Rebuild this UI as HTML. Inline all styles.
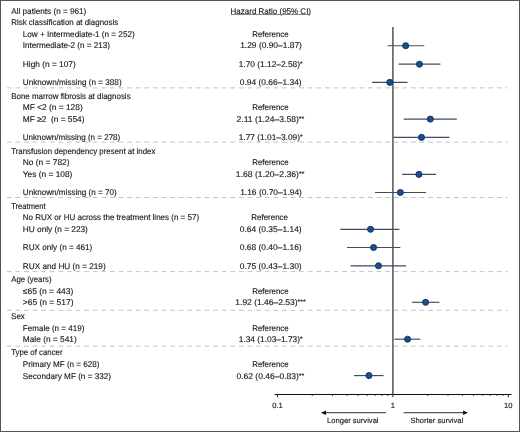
<!DOCTYPE html><html><head><meta charset="utf-8"><style>html,body{margin:0;padding:0;background:#fff}svg{display:block;will-change:transform}text{font-family:"Liberation Sans",sans-serif;text-rendering:geometricPrecision;stroke:#1a1a1a;stroke-width:0.14px}</style></head><body>
<svg width="520" height="432" viewBox="0 0 520 432">
<rect x="0" y="0" width="520" height="432" fill="#fff"/>
<line x1="6.8" y1="87.9" x2="507.6" y2="87.9" stroke="#bcbcbc" stroke-width="0.9" stroke-dasharray="4.7 3.9"/>
<line x1="6.8" y1="142.1" x2="507.6" y2="142.1" stroke="#bcbcbc" stroke-width="0.9" stroke-dasharray="4.7 3.9"/>
<line x1="6.8" y1="197.5" x2="507.6" y2="197.5" stroke="#bcbcbc" stroke-width="0.9" stroke-dasharray="4.7 3.9"/>
<line x1="6.8" y1="271.6" x2="507.6" y2="271.6" stroke="#bcbcbc" stroke-width="0.9" stroke-dasharray="4.7 3.9"/>
<line x1="6.8" y1="310.3" x2="507.6" y2="310.3" stroke="#bcbcbc" stroke-width="0.9" stroke-dasharray="4.7 3.9"/>
<line x1="6.8" y1="346.2" x2="507.6" y2="346.2" stroke="#bcbcbc" stroke-width="0.9" stroke-dasharray="4.7 3.9"/>
<line x1="392.9" y1="27.1" x2="392.9" y2="394.2" stroke="#4f4f4f" stroke-width="1.45"/>
<line x1="274.6" y1="394.45" x2="511.5" y2="394.45" stroke="#111" stroke-width="1.1"/>
<line x1="277.50" y1="394" x2="277.50" y2="397.2" stroke="#1e1e1e" stroke-width="1"/>
<line x1="392.90" y1="394" x2="392.90" y2="397.2" stroke="#1e1e1e" stroke-width="1"/>
<line x1="508.30" y1="394" x2="508.30" y2="397.2" stroke="#1e1e1e" stroke-width="1"/>
<line x1="312.24" y1="394" x2="312.24" y2="395.8" stroke="#1e1e1e" stroke-width="1"/>
<line x1="332.56" y1="394" x2="332.56" y2="395.8" stroke="#1e1e1e" stroke-width="1"/>
<line x1="346.98" y1="394" x2="346.98" y2="395.8" stroke="#1e1e1e" stroke-width="1"/>
<line x1="358.16" y1="394" x2="358.16" y2="395.8" stroke="#1e1e1e" stroke-width="1"/>
<line x1="367.30" y1="394" x2="367.30" y2="395.8" stroke="#1e1e1e" stroke-width="1"/>
<line x1="375.02" y1="394" x2="375.02" y2="395.8" stroke="#1e1e1e" stroke-width="1"/>
<line x1="381.72" y1="394" x2="381.72" y2="395.8" stroke="#1e1e1e" stroke-width="1"/>
<line x1="387.62" y1="394" x2="387.62" y2="395.8" stroke="#1e1e1e" stroke-width="1"/>
<line x1="427.64" y1="394" x2="427.64" y2="395.8" stroke="#1e1e1e" stroke-width="1"/>
<line x1="447.96" y1="394" x2="447.96" y2="395.8" stroke="#1e1e1e" stroke-width="1"/>
<line x1="462.38" y1="394" x2="462.38" y2="395.8" stroke="#1e1e1e" stroke-width="1"/>
<line x1="473.56" y1="394" x2="473.56" y2="395.8" stroke="#1e1e1e" stroke-width="1"/>
<line x1="482.70" y1="394" x2="482.70" y2="395.8" stroke="#1e1e1e" stroke-width="1"/>
<line x1="490.42" y1="394" x2="490.42" y2="395.8" stroke="#1e1e1e" stroke-width="1"/>
<line x1="497.12" y1="394" x2="497.12" y2="395.8" stroke="#1e1e1e" stroke-width="1"/>
<line x1="503.02" y1="394" x2="503.02" y2="395.8" stroke="#1e1e1e" stroke-width="1"/>
<g font-size="7.6" fill="#1a1a1a" text-anchor="middle" style="stroke-width:0.08px">
<text x="277.50" y="407.6">0.1</text><text x="392.90" y="407.6">1</text><text x="508.30" y="407.6">10</text>
<text x="352.8" y="423">Longer survival</text><text x="436.8" y="423">Shorter survival</text>
</g>
<line x1="325" y1="412.7" x2="385.8" y2="412.7" stroke="#555" stroke-width="1.3"/>
<path d="M320.9 412.7 L326 410.5 L326 414.9 Z" fill="#111"/>
<line x1="403.6" y1="412.7" x2="464" y2="412.7" stroke="#555" stroke-width="1.3"/>
<path d="M467.9 412.7 L463.1 410.5 L463.1 414.9 Z" fill="#111"/>
<text transform="translate(270.8 13.6) scale(0.964 1)" font-size="8.3" fill="#1a1a1a" text-anchor="middle">Hazard Ratio (95% CI)</text>
<line x1="231" y1="14.5" x2="310.6" y2="14.5" stroke="#666" stroke-width="0.8"/>
<text transform="translate(11.2 13.9) scale(0.9844 1)" font-size="8.3" fill="#1a1a1a">All patients (n = 961)</text>
<text transform="translate(11.2 25.3) scale(0.9544 1)" font-size="8.3" fill="#1a1a1a">Risk classification at diagnosis</text>
<text transform="translate(22.8 36.9) scale(0.9819 1)" font-size="8.3" fill="#1a1a1a">Low + Intermediate-1 (n = 252)</text>
<text transform="translate(270.46 36.9) scale(0.9539 1)" font-size="8.3" fill="#1a1a1a" text-anchor="middle">Reference</text>
<text transform="translate(22.8 48.0) scale(0.9779 1)" font-size="8.3" fill="#1a1a1a">Intermediate-2 (n = 213)</text>
<text transform="translate(271.02 48.0) scale(1.0129 1)" font-size="8.3" fill="#1a1a1a" text-anchor="middle">1.29 (0.90–1.87)</text>
<line x1="387.62" y1="45.70" x2="424.27" y2="45.70" stroke="#404c66" stroke-width="1.15"/>
<circle cx="405.66" cy="45.70" r="3.05" fill="#1d4d8c" stroke="#0f2f60" stroke-width="0.9"/>
<text transform="translate(22.8 66.7) scale(1.0014 1)" font-size="8.3" fill="#1a1a1a">High (n = 107)</text>
<text transform="translate(270.66 66.7) scale(1.0061 1)" font-size="8.3" fill="#1a1a1a" text-anchor="middle">1.70 (1.12–2.58)<tspan font-size="6.8" dy="-0.9">*</tspan></text>
<line x1="398.58" y1="64.20" x2="440.40" y2="64.20" stroke="#404c66" stroke-width="1.15"/>
<circle cx="419.49" cy="64.20" r="3.05" fill="#1d4d8c" stroke="#0f2f60" stroke-width="0.9"/>
<text transform="translate(22.8 84.7) scale(0.9805 1)" font-size="8.3" fill="#1a1a1a">Unknown/missing (n = 388)</text>
<text transform="translate(270.69 84.7) scale(1.0157 1)" font-size="8.3" fill="#1a1a1a" text-anchor="middle">0.94 (0.66–1.34)</text>
<line x1="372.08" y1="82.40" x2="407.57" y2="82.40" stroke="#404c66" stroke-width="1.15"/>
<circle cx="389.80" cy="82.40" r="3.05" fill="#1d4d8c" stroke="#0f2f60" stroke-width="0.9"/>
<text transform="translate(11.2 98.9) scale(0.9590 1)" font-size="8.3" fill="#1a1a1a">Bone marrow fibrosis at diagnosis</text>
<text transform="translate(22.8 110.1) scale(1.0062 1)" font-size="8.3" fill="#1a1a1a">MF &lt;2 (n = 128)</text>
<text transform="translate(270.46 110.1) scale(0.9539 1)" font-size="8.3" fill="#1a1a1a" text-anchor="middle">Reference</text>
<text transform="translate(22.8 121.5) scale(1.0037 1)" font-size="8.3" fill="#1a1a1a">MF ≥2&#160; (n = 554)</text>
<text transform="translate(270.43 121.5) scale(1.0336 1)" font-size="8.3" fill="#1a1a1a" text-anchor="middle">2.11 (1.24–3.58)<tspan font-size="6.8" dy="-0.9">**</tspan></text>
<line x1="403.68" y1="119.10" x2="456.82" y2="119.10" stroke="#404c66" stroke-width="1.15"/>
<circle cx="430.32" cy="119.10" r="3.05" fill="#1d4d8c" stroke="#0f2f60" stroke-width="0.9"/>
<text transform="translate(22.8 139.6) scale(0.9672 1)" font-size="8.3" fill="#1a1a1a">Unknown/missing (n = 278)</text>
<text transform="translate(270.66 139.6) scale(1.0061 1)" font-size="8.3" fill="#1a1a1a" text-anchor="middle">1.77 (1.01–3.09)<tspan font-size="6.8" dy="-0.9">*</tspan></text>
<line x1="393.40" y1="137.40" x2="449.44" y2="137.40" stroke="#404c66" stroke-width="1.15"/>
<circle cx="421.52" cy="137.40" r="3.05" fill="#1d4d8c" stroke="#0f2f60" stroke-width="0.9"/>
<text transform="translate(11.2 153.9) scale(0.9494 1)" font-size="8.3" fill="#1a1a1a">Transfusion dependency present at index</text>
<text transform="translate(22.8 165.3) scale(1.0079 1)" font-size="8.3" fill="#1a1a1a">No (n = 782)</text>
<text transform="translate(270.46 165.3) scale(0.9539 1)" font-size="8.3" fill="#1a1a1a" text-anchor="middle">Reference</text>
<text transform="translate(22.8 176.7) scale(1.0047 1)" font-size="8.3" fill="#1a1a1a">Yes (n = 108)</text>
<text transform="translate(270.15 176.7) scale(1.0359 1)" font-size="8.3" fill="#1a1a1a" text-anchor="middle">1.68 (1.20–2.36)<tspan font-size="6.8" dy="-0.9">**</tspan></text>
<line x1="402.04" y1="174.40" x2="435.93" y2="174.40" stroke="#404c66" stroke-width="1.15"/>
<circle cx="418.90" cy="174.40" r="3.05" fill="#1d4d8c" stroke="#0f2f60" stroke-width="0.9"/>
<text transform="translate(22.8 195.1) scale(0.9775 1)" font-size="8.3" fill="#1a1a1a">Unknown/missing (n = 70)</text>
<text transform="translate(271.02 195.1) scale(1.0129 1)" font-size="8.3" fill="#1a1a1a" text-anchor="middle">1.16 (0.70–1.94)</text>
<line x1="375.02" y1="192.50" x2="426.11" y2="192.50" stroke="#404c66" stroke-width="1.15"/>
<circle cx="400.34" cy="192.50" r="3.05" fill="#1d4d8c" stroke="#0f2f60" stroke-width="0.9"/>
<text transform="translate(11.2 208.6) scale(0.9158 1)" font-size="8.3" fill="#1a1a1a">Treatment</text>
<text transform="translate(22.8 220.1) scale(0.9640 1)" font-size="8.3" fill="#1a1a1a">No RUX or HU across the treatment lines (n = 57)</text>
<text transform="translate(269.64 220.1) scale(0.9598 1)" font-size="8.3" fill="#1a1a1a" text-anchor="middle">Reference</text>
<text transform="translate(22.8 231.6) scale(0.9973 1)" font-size="8.3" fill="#1a1a1a">HU only (n = 223)</text>
<text transform="translate(270.69 231.6) scale(1.0157 1)" font-size="8.3" fill="#1a1a1a" text-anchor="middle">0.64 (0.35–1.14)</text>
<line x1="340.29" y1="229.30" x2="399.47" y2="229.30" stroke="#404c66" stroke-width="1.15"/>
<circle cx="370.53" cy="229.30" r="3.05" fill="#1d4d8c" stroke="#0f2f60" stroke-width="0.9"/>
<text transform="translate(22.8 249.9) scale(0.9805 1)" font-size="8.3" fill="#1a1a1a">RUX only (n = 461)</text>
<text transform="translate(270.69 249.9) scale(1.0157 1)" font-size="8.3" fill="#1a1a1a" text-anchor="middle">0.68 (0.40–1.16)</text>
<line x1="346.98" y1="247.50" x2="400.34" y2="247.50" stroke="#404c66" stroke-width="1.15"/>
<circle cx="373.57" cy="247.50" r="3.05" fill="#1d4d8c" stroke="#0f2f60" stroke-width="0.9"/>
<text transform="translate(22.8 268.6) scale(0.9899 1)" font-size="8.3" fill="#1a1a1a">RUX and HU (n = 219)</text>
<text transform="translate(270.69 268.6) scale(1.0157 1)" font-size="8.3" fill="#1a1a1a" text-anchor="middle">0.75 (0.43–1.30)</text>
<line x1="350.60" y1="265.80" x2="406.05" y2="265.80" stroke="#404c66" stroke-width="1.15"/>
<circle cx="378.48" cy="265.80" r="3.05" fill="#1d4d8c" stroke="#0f2f60" stroke-width="0.9"/>
<text transform="translate(11.2 282.2) scale(0.9407 1)" font-size="8.3" fill="#1a1a1a">Age (years)</text>
<text transform="translate(22.8 293.8) scale(1.0207 1)" font-size="8.3" fill="#1a1a1a">≤65 (n = 443)</text>
<text transform="translate(270.46 293.8) scale(0.9539 1)" font-size="8.3" fill="#1a1a1a" text-anchor="middle">Reference</text>
<text transform="translate(22.8 305.0) scale(1.0174 1)" font-size="8.3" fill="#1a1a1a">&gt;65 (n = 517)</text>
<text transform="translate(270.51 305.0) scale(1.0233 1)" font-size="8.3" fill="#1a1a1a" text-anchor="middle">1.92 (1.46–2.53)<tspan font-size="6.8" dy="-0.9">***</tspan></text>
<line x1="411.87" y1="302.30" x2="439.42" y2="302.30" stroke="#404c66" stroke-width="1.15"/>
<circle cx="425.59" cy="302.30" r="3.05" fill="#1d4d8c" stroke="#0f2f60" stroke-width="0.9"/>
<text transform="translate(11.2 319.0) scale(0.9422 1)" font-size="8.3" fill="#1a1a1a">Sex</text>
<text transform="translate(22.8 330.6) scale(0.9710 1)" font-size="8.3" fill="#1a1a1a">Female (n = 419)</text>
<text transform="translate(270.46 330.6) scale(0.9539 1)" font-size="8.3" fill="#1a1a1a" text-anchor="middle">Reference</text>
<text transform="translate(22.8 342.0) scale(1.0023 1)" font-size="8.3" fill="#1a1a1a">Male (n = 541)</text>
<text transform="translate(270.66 342.0) scale(1.0061 1)" font-size="8.3" fill="#1a1a1a" text-anchor="middle">1.34 (1.03–1.73)<tspan font-size="6.8" dy="-0.9">*</tspan></text>
<line x1="394.38" y1="339.20" x2="420.37" y2="339.20" stroke="#404c66" stroke-width="1.15"/>
<circle cx="407.57" cy="339.20" r="3.05" fill="#1d4d8c" stroke="#0f2f60" stroke-width="0.9"/>
<text transform="translate(11.2 355.4) scale(0.9430 1)" font-size="8.3" fill="#1a1a1a">Type of cancer</text>
<text transform="translate(22.8 367.1) scale(0.9762 1)" font-size="8.3" fill="#1a1a1a">Primary MF (n = 628)</text>
<text transform="translate(270.46 367.1) scale(0.9539 1)" font-size="8.3" fill="#1a1a1a" text-anchor="middle">Reference</text>
<text transform="translate(22.8 378.5) scale(0.9837 1)" font-size="8.3" fill="#1a1a1a">Secondary MF (n = 332)</text>
<text transform="translate(270.36 378.5) scale(1.0248 1)" font-size="8.3" fill="#1a1a1a" text-anchor="middle">0.62 (0.46–0.83)<tspan font-size="6.8" dy="-0.9">**</tspan></text>
<line x1="353.98" y1="375.60" x2="383.56" y2="375.60" stroke="#404c66" stroke-width="1.15"/>
<circle cx="368.94" cy="375.60" r="3.05" fill="#1d4d8c" stroke="#0f2f60" stroke-width="0.9"/>
<rect x="0.5" y="0.5" width="519" height="431" fill="none" stroke="#555" stroke-width="1"/>
</svg></body></html>
